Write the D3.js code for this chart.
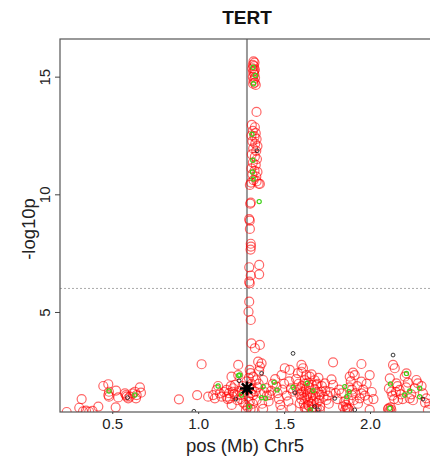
<!DOCTYPE html>
<html>
<head>
<meta charset="utf-8">
<script src="https://cdn.jsdelivr.net/npm/d3@7"></script>
<style>
  html, body { margin: 0; padding: 0; background: #fff; }
  svg { display: block; font-family: "Liberation Sans", Arial, Helvetica, sans-serif; }
</style>
</head>
<body>
<svg id="chart" width="430" height="459"></svg>
<script>
// Regional association plot around TERT (Chr5), positions in Mb, -log10 p-values
const chartTitle = "TERT";
const xLabel = "pos (Mb) Chr5";
const yLabel = "-log10p";
const xTicks = [0.5, 1.0, 1.5, 2.0];
const yTicks = [5, 10, 15];
const xDomain = [0.196, 2.349];
const yDomain = [0.75, 16.6];
const leadPos = 1.284;          // index SNP position (vertical line)
const leadSnp = [1.284, 1.75];  // index SNP marker
const threshold = 6;            // dashed significance line

// SNPs in the region: [pos (Mb), -log10p]
const redSnps = [
  // peak column
  [1.322,15.65],[1.328,15.6],[1.318,15.5],[1.325,15.45],[1.316,15.35],[1.330,15.3],[1.320,15.2],
  [1.327,15.1],[1.318,15.0],[1.331,14.95],[1.322,14.85],[1.329,14.75],[1.335,14.65],[1.320,14.7],[1.326,15.25],
  [1.3395,13.5],
  [1.312,12.95],[1.330,12.85],[1.318,12.7],[1.335,12.6],[1.310,12.5],[1.328,12.45],[1.340,12.35],
  [1.315,12.25],[1.332,12.15],[1.345,12.05],[1.320,11.95],[1.338,11.85],[1.312,11.7],[1.330,11.6],
  [1.342,11.5],[1.318,11.35],[1.335,11.25],[1.310,11.1],[1.328,11.0],[1.345,10.95],[1.315,10.85],
  [1.338,10.75],[1.322,10.6],[1.308,10.5],[1.352,10.45],[1.340,10.55],
  [1.301,10.40],[1.359,10.44],[1.306,9.65],[1.303,9.60],[1.297,8.95],[1.300,8.88],[1.301,8.53],
  [1.306,7.90],[1.307,7.78],[1.305,7.65],[1.297,6.90],[1.355,7.00],[1.306,6.55],[1.355,6.60],
  [1.297,6.29],[1.300,6.22],[1.297,5.44],[1.293,5.01],[1.306,4.66],
  // left flank
  [0.448,1.855],[0.477,1.93],[0.481,1.61],[0.477,1.47],[0.481,1.40],[0.522,1.66],[0.535,1.37],
  [0.520,0.95],[0.322,1.30],[0.308,0.93],[0.419,0.98],[0.347,0.81],[0.366,0.76],[0.235,0.75],
  [0.330,0.78],[0.385,0.80],
  [0.574,1.54],[0.584,1.40],[0.593,1.33],[0.580,1.47],[0.603,1.40],[0.632,1.61],[0.642,1.47],
  [0.638,1.33],[0.661,1.80],[0.667,1.57],[0.619,1.54],
  [0.888,1.29],[1.020,2.78],[0.994,1.47],[1.058,1.40],
  // around the index SNP
  [1.087,1.47],[1.116,1.855],[1.107,1.69],[1.126,1.54],[1.136,1.40],[1.097,1.33],[1.165,1.40],
  [1.194,2.25],[1.233,2.32],[1.203,1.76],[1.223,1.47],[1.252,1.47],
  [1.150,1.60],[1.172,1.30],[1.180,1.55],[1.190,1.85],[1.210,1.50],[1.215,1.90],[1.228,1.25],
  [1.240,1.65],[1.195,1.05],
  [1.310,3.67],[1.359,3.60],[1.330,3.46],[1.349,2.89],[1.369,2.82],[1.359,2.68],[1.233,2.75],
  [1.300,2.54],[1.320,2.25],[1.378,2.11],[1.504,2.61],[1.533,2.54],[1.485,2.32],[1.456,1.83],
  [1.398,1.76],[1.417,1.47],[1.320,1.47],[1.340,1.26],[1.184,1.33],[1.165,1.69],[1.203,1.61],
  [1.320,0.84],[1.378,0.88],[1.485,0.84],[1.543,0.91],
  [1.262,1.15],[1.275,1.05],[1.288,0.95],[1.300,1.20],[1.292,1.40],[1.305,1.55],[1.268,1.60],
  [1.298,1.80],[1.310,1.95],[1.282,2.05],[1.295,2.20],[1.305,2.40],[1.312,1.70],[1.318,1.10],
  [1.258,1.85],[1.248,1.30],[1.278,0.82],[1.305,0.88],[1.330,1.62],[1.345,1.80],[1.352,1.95],
  [1.338,2.10],[1.355,2.50],[1.362,1.55],[1.372,1.10],[1.385,1.60],[1.400,1.45],[1.410,1.20],
  [1.425,1.65],[1.435,1.95],[1.448,2.15],[1.462,1.55],[1.470,1.30],[1.478,1.05],[1.490,1.70],
  [1.500,1.95],[1.515,1.45],[1.525,1.20],[1.530,2.05],[1.540,1.75],
  // right flank
  [1.601,2.75],[1.610,2.61],[1.601,2.46],[1.630,2.32],[1.649,2.25],[1.552,1.61],[1.601,1.54],
  [1.630,1.40],[1.688,1.90],[1.708,1.47],[1.591,1.12],[1.640,1.05],[1.620,0.91],
  [1.585,1.95],[1.595,1.75],[1.605,1.85],[1.612,1.60],[1.618,1.35],[1.622,1.95],[1.628,1.70],
  [1.635,1.50],[1.640,1.25],[1.645,1.80],[1.650,1.55],[1.655,1.35],[1.660,1.10],[1.662,1.90],
  [1.668,1.45],[1.672,1.20],[1.675,0.95],[1.680,1.70],[1.685,1.40],[1.690,1.15],[1.695,1.95],
  [1.700,1.60],[1.705,1.25],[1.710,0.98],[1.615,1.10],[1.625,0.95],[1.632,0.82],[1.645,1.00],
  [1.660,0.85],[1.690,0.90],[1.600,1.30],[1.590,1.50],[1.575,1.70],[1.570,2.15],[1.580,2.40],
  [1.620,2.10],[1.640,2.00],[1.660,2.35],[1.678,2.10],[1.700,2.20],[1.720,1.85],[1.730,1.40],
  [1.740,1.65],[1.755,1.45],[1.760,1.10],[1.770,1.60],[1.785,1.90],[1.800,1.55],[1.810,1.30],
  [1.820,1.70],
  [1.785,2.86],[1.950,2.79],[1.901,2.42],[1.911,2.32],[1.882,2.25],[1.998,2.32],[1.776,2.14],
  [1.950,2.04],[1.737,1.97],[1.894,1.47],[1.834,1.54],[1.950,1.54],[1.940,1.33],[1.988,1.26],
  [1.717,1.61],[1.746,1.26],[1.843,0.98],[1.872,0.91],[1.998,0.84],[1.708,0.84],
  [1.850,1.20],[1.860,1.05],[1.868,0.90],[1.875,1.25],[1.880,1.80],[1.888,2.05],[1.895,1.70],
  [1.905,1.25],[1.915,1.55],[1.925,1.85],[1.930,1.10],[1.960,1.70],[1.970,1.45],[1.980,1.95],
  [2.010,1.60],[2.020,1.30],[1.855,0.82],[1.862,0.95],[1.878,0.85],
  [2.134,2.75],[2.144,2.61],[2.212,2.39],[2.202,2.25],[2.115,2.18],[2.153,1.97],[2.124,1.61],
  [2.172,1.69],[2.270,2.11],[2.279,1.97],[2.308,1.54],[2.231,1.33],[2.328,1.33],[2.163,1.26],
  [2.105,0.87],[2.124,0.84],[2.337,0.84],
  [2.110,1.75],[2.130,1.45],[2.140,1.30],[2.150,1.60],[2.160,1.85],[2.180,1.50],[2.190,1.30],
  [2.210,1.80],[2.220,2.00],[2.240,1.50],[2.250,1.25],[2.260,1.75],[2.300,1.85],[2.320,1.15],
  [2.345,1.10],[2.115,0.82],[2.120,0.95],[2.108,0.90]
];

const greenSnps = [
  [1.319,15.4],[1.333,15.05],[1.322,14.7],
  [1.313,12.55],[1.318,11.45],[1.316,10.95],[1.320,10.65],[1.355,9.69],
  [0.481,1.64],[0.632,1.47],[1.116,1.855],[1.235,2.30],
  [1.242,2.32],[1.442,2.01],[1.459,1.69],[1.378,1.83],[1.369,1.36],[1.392,1.33],[1.252,1.47],
  [1.297,0.98],[1.634,1.97],[1.669,1.66],[1.552,1.80],[1.653,0.84],
  [1.853,1.83],[1.878,1.61],[1.865,1.40],
  [2.212,2.39],[2.119,1.94],[2.231,1.64],[2.289,1.76],[2.202,1.47],[2.289,1.40],[2.115,0.91]
];

const blackSnps = [
  [1.343,11.85],[0.589,1.36],[0.975,0.78],[1.238,2.08],[1.369,2.39],[1.219,1.30],
  [1.552,3.24],[1.562,1.57],[1.678,0.98],[1.698,0.84],[1.795,1.33],[1.911,0.84],
  [2.134,3.17],[2.308,1.30]
];

const svg = d3.select("#chart");
const plot = { left: 60, top: 39, right: 430, bottom: 412 };

const x = d3.scaleLinear().domain(xDomain).range([plot.left, plot.right]);
const y = d3.scaleLinear().domain(yDomain).range([plot.bottom, plot.top]);

// clip marks to the plotting region
svg.append("defs").append("clipPath").attr("id", "plotClip")
  .append("rect")
  .attr("x", plot.left).attr("y", plot.top)
  .attr("width", plot.right - plot.left + 10).attr("height", plot.bottom - plot.top);

// title
svg.append("text")
  .attr("x", 247).attr("y", 24)
  .attr("text-anchor", "middle")
  .style("font-weight", "bold").style("font-size", "19px")
  .attr("fill", "#111")
  .text(chartTitle);

const marks = svg.append("g").attr("clip-path", "url(#plotClip)");

// significance threshold
marks.append("line")
  .attr("x1", plot.left).attr("x2", plot.right + 10)
  .attr("y1", y(threshold)).attr("y2", y(threshold))
  .attr("stroke", "#aaa").attr("stroke-width", 1)
  .attr("stroke-dasharray", "2,2");

// index SNP position
marks.append("line")
  .attr("x1", x(leadPos)).attr("x2", x(leadPos))
  .attr("y1", plot.top).attr("y2", plot.bottom)
  .attr("stroke", "#999").attr("stroke-width", 2);

marks.append("g").selectAll("circle").data(redSnps).join("circle")
  .attr("cx", d => x(d[0])).attr("cy", d => y(d[1]))
  .attr("r", 4.5)
  .attr("fill", "none").attr("stroke", "#ff0000")
  .attr("stroke-opacity", 0.6).attr("stroke-width", 1.2);

marks.append("g").selectAll("circle").data(greenSnps).join("circle")
  .attr("cx", d => x(d[0])).attr("cy", d => y(d[1]))
  .attr("r", 2.1)
  .attr("fill", "none").attr("stroke", "#3fd21a").attr("stroke-width", 1.2);

marks.append("g").selectAll("circle").data(blackSnps).join("circle")
  .attr("cx", d => x(d[0])).attr("cy", d => y(d[1]))
  .attr("r", 1.9)
  .attr("fill", "none").attr("stroke", "#222").attr("stroke-width", 0.9);

// index SNP asterisk
const ax = x(leadSnp[0]), ay = y(leadSnp[1]), s = 7;
const star = d3.path();
star.moveTo(ax - s, ay); star.lineTo(ax + s, ay);
star.moveTo(ax, ay - s); star.lineTo(ax, ay + s);
star.moveTo(ax - s * 0.72, ay - s * 0.72); star.lineTo(ax + s * 0.72, ay + s * 0.72);
star.moveTo(ax - s * 0.72, ay + s * 0.72); star.lineTo(ax + s * 0.72, ay - s * 0.72);
marks.append("path").attr("d", star.toString())
  .attr("stroke", "#000").attr("stroke-width", 2.6).attr("fill", "none");

// frame
svg.append("rect")
  .attr("x", plot.left).attr("y", plot.top)
  .attr("width", plot.right - plot.left + 20).attr("height", plot.bottom - plot.top)
  .attr("fill", "none").attr("stroke", "#555").attr("stroke-width", 1.2);

// y axis
const yAxis = svg.append("g")
  .attr("transform", `translate(${plot.left},0)`)
  .call(d3.axisLeft(y).tickValues(yTicks).tickSize(5).tickFormat(d3.format("d")));
yAxis.select(".domain").remove();
yAxis.selectAll(".tick line").attr("stroke", "#444");
yAxis.selectAll(".tick text")
  .attr("x", null).attr("dy", null)
  .attr("transform", "translate(-10,0) rotate(-90)")
  .attr("text-anchor", "middle")
  .style("font-size", "15px").style("font-family", "Liberation Sans, Arial, sans-serif")
  .attr("fill", "#222");

// x axis
const xAxis = svg.append("g")
  .attr("transform", `translate(0,${plot.bottom})`)
  .call(d3.axisBottom(x).tickValues(xTicks).tickSize(2).tickFormat(d3.format(".1f")));
xAxis.select(".domain").remove();
xAxis.selectAll(".tick line").attr("stroke", "#444");
xAxis.selectAll(".tick text")
  .attr("y", 6)
  .style("font-size", "15px").style("font-family", "Liberation Sans, Arial, sans-serif")
  .attr("fill", "#222");

// axis titles
svg.append("text")
  .attr("x", 245).attr("y", 452)
  .attr("text-anchor", "middle")
  .style("font-size", "18.5px").attr("fill", "#222")
  .text(xLabel);

svg.append("text")
  .attr("transform", "translate(35,229) rotate(-90)")
  .attr("text-anchor", "middle")
  .style("font-size", "18.5px").attr("fill", "#222")
  .text(yLabel);
</script>
</body>
</html>
